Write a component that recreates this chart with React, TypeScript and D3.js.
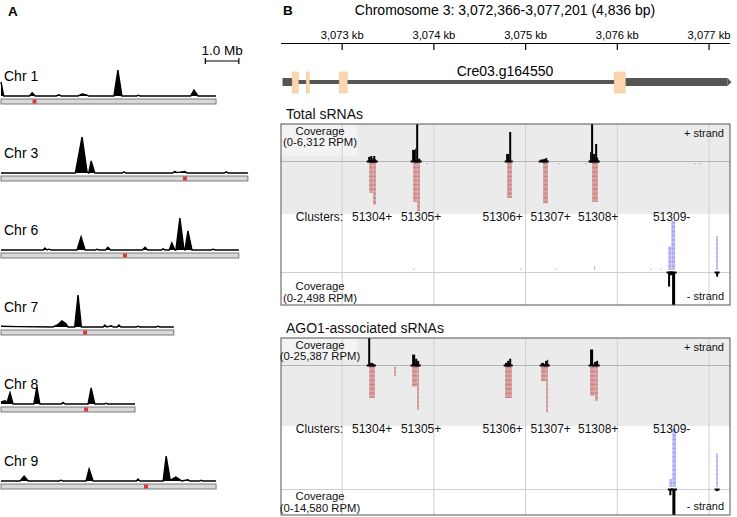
import * as d3 from "d3";

const FONT = "'Liberation Sans', Arial, Helvetica, sans-serif";

// ---------- panel A: genome-wide sRNA density ----------
const chrNames = ["Chr 1", "Chr 3", "Chr 6", "Chr 7", "Chr 8", "Chr 9"];
const chrLengthsMb = [6.42, 7.37, 7.1, 5.16, 4.0, 6.42];
const centromereMb = [1.0, 5.49, 3.7, 2.51, 2.54, 4.33];

// [position Mb, relative density]
const chr1Density: [number, number][] = [
  [0, 0.35], [0.08, 0], [0.85, 0], [0.93, 0.08], [1.02, 0], [1.65, 0], [1.73, 0.03], [1.8, 0],
  [2.3, 0], [2.42, 0.05], [2.55, 0.03], [2.62, 0], [3.37, 0], [3.49, 0.65], [3.61, 0],
  [4.05, 0], [4.1, 0.02], [4.15, 0], [5.66, 0], [5.76, 0.15], [5.88, 0], [6.42, 0],
];
const chr3Density: [number, number][] = [
  [0, 0], [2.22, 0], [2.42, 0.9], [2.57, 0.02], [2.62, 0], [2.69, 0.3], [2.8, 0], [3.62, 0],
  [3.67, 0.03], [3.72, 0], [5.12, 0], [5.19, 0.04], [5.25, 0.01], [5.49, 0.04], [5.55, 0],
  [6.67, 0], [6.72, 0.03], [6.78, 0], [7.37, 0],
];
const chr6Density: [number, number][] = [
  [0, 0], [1.26, 0], [1.31, 0.05], [1.37, 0], [1.42, 0.02], [1.5, 0], [2.27, 0], [2.39, 0.33],
  [2.51, 0], [2.82, 0], [2.87, 0.02], [2.92, 0], [3.12, 0], [3.19, 0.07], [3.27, 0], [4.22, 0],
  [4.3, 0.07], [4.38, 0], [4.78, 0], [4.84, 0.03], [4.9, 0], [5.02, 0], [5.1, 0.18], [5.19, 0],
  [5.22, 0], [5.34, 0.8], [5.46, 0.02], [5.49, 0], [5.58, 0.48], [5.7, 0], [6.28, 0],
  [6.33, 0.02], [6.4, 0], [7.1, 0],
];
const chr7Density: [number, number][] = [
  [0, 0.02], [0.5, 0.01], [1.55, 0], [1.7, 0.06], [1.82, 0.15], [1.94, 0.08], [2.0, 0], [2.2, 0],
  [2.3, 0.8], [2.4, 0], [3.05, 0], [3.1, 0.05], [3.16, 0], [3.3, 0.03], [3.35, 0], [3.47, 0],
  [3.52, 0.05], [3.58, 0], [4.04, 0], [4.09, 0.02], [4.14, 0], [4.64, 0], [4.69, 0.02],
  [4.74, 0], [5.16, 0],
];
const chr8Density: [number, number][] = [
  [0, 0.05], [0.12, 0.08], [0.18, 0.04], [0.27, 0.28], [0.36, 0], [0.98, 0], [1.07, 0.43],
  [1.16, 0], [1.8, 0], [1.85, 0.04], [1.92, 0], [2.6, 0], [2.69, 0.4], [2.8, 0], [3.08, 0],
  [3.13, 0.02], [3.18, 0], [4.0, 0],
];
const chr9Density: [number, number][] = [
  [0, 0], [0.57, 0], [0.69, 0.12], [0.81, 0], [1.74, 0], [1.79, 0.02], [1.85, 0], [2.54, 0],
  [2.63, 0.3], [2.75, 0], [4.04, 0], [4.09, 0.05], [4.15, 0], [4.84, 0], [4.93, 0.62],
  [5.05, 0.03], [5.1, 0.04], [5.22, 0.1], [5.4, 0], [5.58, 0.03], [5.64, 0], [5.93, 0],
  [5.97, 0.02], [6.02, 0], [6.42, 0],
];
const chrDensities = [chr1Density, chr3Density, chr6Density, chr7Density, chr8Density, chr9Density];
const scaleBarMb = 1.0;

// ---------- panel B: locus view ----------
const regionStart = 3072366;
const regionEnd = 3077201;
const axisTicksKb = [3073, 3074, 3075, 3076, 3077];
const geneName = "Cre03.g164550";
const geneUtrs = [[3072350, 3072455], [3076086, 3077201]];
const geneExons = [[3072455, 3072521], [3072608, 3072641], [3072968, 3073055], [3075966, 3076086]];

const clusterNames = ["51304+", "51305+", "51306+", "51307+", "51308+", "51309-"];
const clusterLabelBp = [3073327, 3073861, 3074750, 3075273, 3075791, 3076592];

// coverage bins: [start bp, end bp, RPM]
const totalPlusCoverage = [
  [3073284, 3073306, 700], [3073306, 3073328, 850], [3073328, 3073339, 500], [3073339, 3073361, 850],
  [3073361, 3073371, 300], [3073763, 3073796, 1900], [3073796, 3073807, 2100], [3073807, 3073829, 6312],
  [3073829, 3073851, 400], [3074788, 3074821, 1200], [3074821, 3074843, 4950], [3075159, 3075192, 250],
  [3075192, 3075214, 350], [3075214, 3075236, 500], [3075703, 3075714, 1500], [3075714, 3075736, 6312],
  [3075736, 3075758, 1200], [3075758, 3075780, 2900], [3075780, 3075791, 600],
];
const totalMinusCoverage = [
  [3076553, 3076575, 1100], [3076575, 3076597, 250], [3076597, 3076630, 2498], [3077077, 3077099, 350],
];
const agoPlusCoverage = [
  [3073284, 3073306, 25387], [3073306, 3073339, 2000], [3073339, 3073350, 900],
  [3073763, 3073796, 9800], [3073796, 3073818, 5900], [3073818, 3073840, 3900],
  [3074777, 3074799, 2000], [3074799, 3074821, 3900], [3074821, 3074843, 5900],
  [3075170, 3075203, 2000], [3075213, 3075235, 3900], [3075235, 3075246, 4900],
  [3075703, 3075736, 14600], [3075747, 3075769, 2900], [3075769, 3075791, 3900],
];
const agoMinusCoverage = [
  [3076567, 3076589, 3500], [3076600, 3076633, 14580], [3077077, 3077099, 1200],
];

// stacked reads: [start bp, end bp, number of reads]
const totalPlusReads = [
  [3073295, 3073338, 23], [3073338, 3073371, 32], [3073774, 3073818, 30], [3073818, 3073851, 37],
  [3074799, 3074853, 27], [3075191, 3075246, 31], [3075725, 3075791, 30],
  [3073922, 3073935, 1], [3075355, 3075370, 1], [3075650, 3075665, 1], [3076840, 3076855, 1],
  [3076900, 3076915, 1],
];
const totalMinusReads = [
  [3076556, 3076589, 18], [3076589, 3076633, 38], [3077077, 3077099, 26],
  [3073774, 3073790, 1], [3074943, 3074960, 1], [3075325, 3075340, 1], [3075747, 3075763, 3],
  [3076360, 3076375, 1], [3076470, 3076485, 1],
];
const agoPlusReads = [
  [3073295, 3073360, 24], [3073568, 3073590, 7], [3073763, 3073818, 15], [3073818, 3073840, 33],
  [3074777, 3074853, 24], [3075169, 3075224, 11], [3075224, 3075246, 35],
  [3075703, 3075758, 22], [3075758, 3075791, 26],
];
const agoMinusReads = [
  [3076567, 3076600, 6], [3076600, 3076643, 45], [3077077, 3077099, 26],
];

const x = d3.scaleLinear().domain([regionStart, regionEnd]).range([284, 727.5]);
const boxL = 281;
const boxR = 730;

type TrackProps = {
  id: string; title: string; titleY: number;
  top: number; mid: number; greyBottom: number; minusBase: number; bottom: number;
  plusMax: number; minusMax: number;
  plusCov: number[][]; minusCov: number[][]; plusReads: number[][]; minusReads: number[][];
};

function fmt(n: number) {
  return d3.format(",")(n);
}

function Track(p: TrackProps) {
  const yPlus = d3.scaleLinear().domain([0, p.plusMax]).range([p.mid, p.top]);
  const yMinus = d3.scaleLinear().domain([0, p.minusMax]).range([p.minusBase, p.bottom]);
  const rowStep = 1.3;
  const tickBp = axisTicksKb.map(k => k * 1000);
  const txt = { fontFamily: FONT, fill: "#111" };
  return (
    <g>
      <text x={286} y={p.titleY} fontSize={14} {...txt}>{p.title}</text>
      <defs>
        <clipPath id={p.id}>
          <rect x={boxL} y={p.top} width={boxR - boxL} height={p.bottom - p.top} />
        </clipPath>
      </defs>
      <rect x={boxL} y={p.top} width={boxR - boxL} height={p.bottom - p.top} fill="#fff" />
      <rect x={boxL} y={p.top} width={boxR - boxL} height={p.greyBottom - p.top} fill="#ebebeb" />
      <rect x={boxL} y={p.top} width={76} height={p.mid - p.top - 5} fill="#f3f3f3" />
      <g clipPath={`url(#${p.id})`}>
        {tickBp.map(t => (
          <line key={t} x1={x(t)} x2={x(t)} y1={p.top} y2={p.bottom} stroke="#cfcfcf" strokeWidth={1} />
        ))}
        <line x1={boxL} x2={boxR} y1={p.mid + 0.5} y2={p.mid + 0.5} stroke="#b4b4b4" />
        <line x1={boxL} x2={boxR} y1={p.minusBase + 0.5} y2={p.minusBase + 0.5} stroke="#cfcfcf" />
        {p.plusReads.map(([s, e, n], i) =>
          d3.range(n).map(r => (
            <rect key={`pr${i}-${r}`} x={x(s)} width={Math.max(1, x(e) - x(s) - 0.3)}
              y={p.mid + 2 + r * rowStep} height={1.15} fill="#cd8383" />
          ))
        )}
        {p.minusReads.map(([s, e, n], i) =>
          d3.range(n).map(r => (
            <rect key={`mr${i}-${r}`} x={x(s)} width={Math.max(1, x(e) - x(s) - 0.3)}
              y={p.minusBase - 2 - (r + 1) * rowStep} height={1.15} fill="#a3a3f2" />
          ))
        )}
        {p.plusCov.map(([s, e, v], i) => (
          <g key={`pc${i}`}>
            <rect x={x(s)} width={x(e) - x(s)} y={yPlus(v)} height={p.mid - yPlus(v) + 1} fill="#000" />
            <rect x={x(s) - 1.5} width={x(e) - x(s) + 3} y={p.mid - 0.5} height={2} fill="#000" />
          </g>
        ))}
        {p.minusCov.map(([s, e, v], i) => (
          <g key={`mc${i}`}>
            <rect x={x(s)} width={x(e) - x(s)} y={p.minusBase} height={yMinus(v) - p.minusBase} fill="#000" />
            <rect x={x(s) - 1.5} width={x(e) - x(s) + 3} y={p.minusBase - 0.5} height={2} fill="#000" />
          </g>
        ))}
      </g>
      <rect x={boxL} y={p.top} width={boxR - boxL} height={p.bottom - p.top} fill="none" stroke="#555" strokeWidth={1} />
      <text x={320} y={p.top + 11} fontSize={11.3} textAnchor="middle" {...txt}>Coverage</text>
      <text x={320} y={p.top + 22} fontSize={11.3} textAnchor="middle" {...txt}>{`(0-${fmt(p.plusMax)} RPM)`}</text>
      <text x={724} y={p.top + 13} fontSize={11} textAnchor="end" {...txt}>+ strand</text>
      <text x={x(clusterLabelBp[0]) - 29} y={p.greyBottom + 7} fontSize={12} textAnchor="end" {...txt}>Clusters:</text>
      {clusterNames.map((c, i) => (
        <text key={c} x={x(clusterLabelBp[i])} y={p.greyBottom + 7} fontSize={12} textAnchor="middle" {...txt}>{c}</text>
      ))}
      <text x={320} y={p.bottom - 15} fontSize={11.3} textAnchor="middle" {...txt}>Coverage</text>
      <text x={320} y={p.bottom - 3.5} fontSize={11.3} textAnchor="middle" {...txt}>{`(0-${fmt(p.minusMax)} RPM)`}</text>
      <text x={724} y={p.bottom - 5} fontSize={11} textAnchor="end" {...txt}>- strand</text>
    </g>
  );
}

export default function App() {
  // panel A scales
  const mbX = d3.scaleLinear().domain([0, 1]).range([1, 34.5]);
  const rowY = d3.scalePoint<string>().domain(chrNames).range([96, 481]);
  const hY = d3.scaleLinear().domain([0, 1]).range([0, -40]);
  const area = d3.area<[number, number]>().x(d => mbX(d[0])).y0(0).y1(d => hY(d[1]));
  const line = d3.line<[number, number]>().x(d => mbX(d[0])).y(d => hY(d[1]));

  const geneY = 82;
  const utr3 = geneUtrs[1];

  return (
    <svg width={737} height={517} style={{ display: "block", position: "absolute", left: 0, top: 0 }}>
      <rect width={737} height={517} fill="#fff" />

      {/* panel A */}
      <text x={8} y={16} fontFamily={FONT} fontWeight="bold" fontSize={13.5}>A</text>
      <g>
        <line x1={mbX(6.1)} x2={mbX(6.1 + scaleBarMb)} y1={61} y2={61} stroke="#000" strokeWidth={1.2} />
        <line x1={mbX(6.1)} x2={mbX(6.1)} y1={58} y2={64} stroke="#000" strokeWidth={1.2} />
        <line x1={mbX(6.1 + scaleBarMb)} x2={mbX(6.1 + scaleBarMb)} y1={58} y2={64} stroke="#000" strokeWidth={1.2} />
        <text x={mbX(6.1 + scaleBarMb / 2)} y={55} textAnchor="middle" fontFamily={FONT} fontSize={13.5}>1.0 Mb</text>
      </g>
      {chrNames.map((name, i) => (
        <g key={name} transform={`translate(0,${rowY(name)})`}>
          <text x={4} y={-15} fontFamily={FONT} fontSize={14}>{name}</text>
          <path d={area(chrDensities[i]) || ""} fill="#000" />
          <path d={line(chrDensities[i]) || ""} fill="none" stroke="#000" strokeWidth={1.4} />
          <rect x={mbX(0)} y={3} width={mbX(chrLengthsMb[i]) - mbX(0)} height={5}
            fill="#d9d9d9" stroke="#6f6f6f" strokeWidth={0.9} />
          <rect x={mbX(centromereMb[i]) - 2} y={3.5} width={4} height={4} fill="#d63a3a" />
        </g>
      ))}

      {/* panel B */}
      <text x={283} y={15} fontFamily={FONT} fontWeight="bold" fontSize={13.5}>B</text>
      <text x={505} y={15} textAnchor="middle" fontFamily={FONT} fontSize={14}>
        {`Chromosome 3: ${fmt(regionStart)}-${fmt(regionEnd)} (${fmt(regionEnd - regionStart + 1)} bp)`}
      </text>
      <line x1={boxL} x2={boxR} y1={43.5} y2={43.5} stroke="#000" strokeWidth={1} />
      {axisTicksKb.map(k => (
        <g key={k}>
          <line x1={x(k * 1000)} x2={x(k * 1000)} y1={43.5} y2={50} stroke="#000" strokeWidth={1.2} />
          <text x={x(k * 1000)} y={39} textAnchor="middle" fontFamily={FONT} fontSize={11.2}>{`${fmt(k)} kb`}</text>
        </g>
      ))}

      {/* gene model */}
      <text x={505} y={76} textAnchor="middle" fontFamily={FONT} fontSize={14}>{geneName}</text>
      <rect x={x(geneUtrs[0][1])} width={x(utr3[0]) - x(geneUtrs[0][1])} y={geneY - 2} height={4} fill="#555" />
      {geneUtrs.map(([s, e], i) => (
        <rect key={i} x={x(s)} width={x(e) - x(s)} y={geneY - 4} height={8} fill="#555" />
      ))}
      <path d={`M${x(utr3[1])},${geneY - 4} L${x(utr3[1]) + 4},${geneY} L${x(utr3[1])},${geneY + 4} Z`} fill="#555" />
      {geneExons.map(([s, e], i) => (
        <rect key={i} x={x(s)} width={x(e) - x(s)} y={geneY - 10} height={21} fill="#fdd6b0" stroke="#f2c495" strokeWidth={0.6} />
      ))}

      <Track id="clipTotal" title="Total sRNAs" titleY={119}
        top={124} mid={161} greyBottom={214} minusBase={272} bottom={305}
        plusMax={6312} minusMax={2498}
        plusCov={totalPlusCoverage} minusCov={totalMinusCoverage}
        plusReads={totalPlusReads} minusReads={totalMinusReads} />
      <Track id="clipAgo" title="AGO1-associated sRNAs" titleY={333}
        top={338} mid={365} greyBottom={426} minusBase={489} bottom={515}
        plusMax={25387} minusMax={14580}
        plusCov={agoPlusCoverage} minusCov={agoMinusCoverage}
        plusReads={agoPlusReads} minusReads={agoMinusReads} />
    </svg>
  );
}
